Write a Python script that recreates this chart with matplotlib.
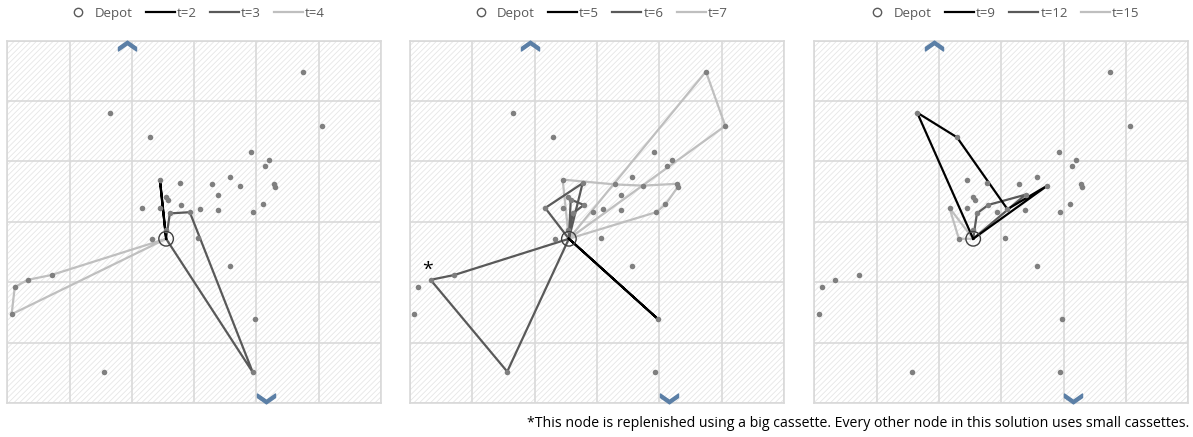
import numpy as np
import matplotlib
matplotlib.use("Agg")
from matplotlib import pyplot as plt
from matplotlib.lines import Line2D
from matplotlib.patches import Rectangle
from matplotlib.path import Path

plt.rcParams['font.family'] = ['Open Sans', 'DejaVu Sans']
plt.rcParams['hatch.linewidth'] = 0.6

# customer nodes (same layout in all three panels)
node_x = [47.5, 16.5, 50.6, 22.9, 39.2, 42.0, 41.3, 24.5, 27.7, 32.9,
          35.7, 37.4, 42.8, 43.0, 33.9, 25.4, 25.8, 21.7, 24.5, 27.9,
          31.0, 33.8, 41.0, 39.5, 26.1, 29.3, 23.2, 25.4, 30.6, 35.7,
          3.3, 7.1, 1.2, 0.7, 39.8, 15.6, 39.4]
node_y = [54.9, 48.1, 45.9, 44.0, 41.6, 40.3, 39.2, 37.0, 36.4, 36.2,
          37.4, 36.0, 36.3, 35.8, 34.5, 34.1, 33.7, 32.3, 32.3, 32.8,
          32.1, 31.9, 32.9, 31.6, 31.4, 31.6, 27.2, 28.7, 27.3, 22.7,
          20.4, 21.2, 19.2, 14.7, 13.9, 5.2, 5.1]
depot = (25.5, 27.2)

# routes per period, as node indices ('D' = depot)
periods = [
    ['t=2', 't=3', 't=4'],
    ['t=5', 't=6', 't=7'],
    ['t=9', 't=12', 't=15'],
]
routes = [
    [[['D', 7, 'D']],
     [['D', 24, 25, 36, 'D']],
     [['D', 31, 30, 32, 33, 'D']]],
    [[['D', 34, 'D']],
     [['D', 31, 30, 35, 'D'], ['D', 17, 8, 'D'], ['D', 16, 19, 24, 'D']],
     [['D', 7, 9, 11, 12, 13, 22, 23, 'D'], ['D', 0, 2, 'D']]],
    [[['D', 1, 3, 20, 11, 'D']],
     [['D', 24, 19, 14, 'D']],
     [['D', 17, 26, 'D']]],
]
big_cassette = (1, 30)   # panel, node

line_colors = ['#000000', '#595959', '#bfbfbf']
node_color = '#7f7f7f'
grid_color = '#d9d9d9'
arrow_color = '#5b7fa6'

# chevron marker for the axis arrows
chevron = Path([(-1, -0.1), (0, 0.6), (1, -0.1), (1, -0.5), (0, 0.2), (-1, -0.5), (-1, -0.1)],
               [Path.MOVETO] + [Path.LINETO] * 5 + [Path.CLOSEPOLY])
chevron_down = Path(chevron.vertices * [1, -1], chevron.codes)


def xy(i):
    if i == 'D':
        return depot
    return node_x[i], node_y[i]


fig = plt.figure(figsize=(11.93, 4.37), dpi=100)
lefts = [0.0061, 0.3437, 0.6826]
for p in range(3):
    ax = fig.add_axes([lefts[p], 0.0778, 0.3133, 0.829])
    ax.set_xlim(0, 60)
    ax.set_ylim(0, 60)
    ax.add_patch(Rectangle((0, 0), 60, 60, facecolor='white', edgecolor='#e6e6e6',
                           hatch='//////', linewidth=0, zorder=0))
    ax.set_xticks(np.arange(0, 61, 10))
    ax.set_yticks(np.arange(0, 61, 10))
    ax.grid(True, color=grid_color, linewidth=1.2, zorder=1)
    ax.tick_params(left=False, bottom=False, labelleft=False, labelbottom=False)
    for s in ax.spines.values():
        s.set_color(grid_color)
        s.set_linewidth(1.2)

    for k in range(3):
        for r in routes[p][k]:
            pts = [xy(i) for i in r]
            ax.plot([q[0] for q in pts], [q[1] for q in pts], color=line_colors[k],
                    linewidth=1.6, zorder=3 + (2 - k) * 0.1)
    ax.scatter(node_x, node_y, s=16, color=node_color, zorder=4, linewidths=0)
    ax.scatter([depot[0]], [depot[1]], s=110, facecolor='none', edgecolor='#404040',
               linewidths=1.0, zorder=5)

    # axis arrows
    ax.plot([19.2], [59.2], marker=chevron, markersize=13, color=arrow_color,
            linestyle='none', clip_on=False, zorder=6)
    ax.plot([41.6], [0.8], marker=chevron_down, markersize=13, color=arrow_color,
            linestyle='none', clip_on=False, zorder=6)

    if p == big_cassette[0]:
        bx, by = xy(big_cassette[1])
        ax.text(bx - 0.5, by + 0.2, '*', fontsize=14, color='#000000', ha='center',
                va='bottom', zorder=6)

    handles = [Line2D([], [], marker='o', markersize=6, markerfacecolor='none',
                      markeredgecolor='#595959', linestyle='none', label='Depot')]
    for k in range(3):
        handles.append(Line2D([], [], color=line_colors[k], linewidth=1.6,
                              label=periods[p][k]))
    fig.legend(handles=handles, loc='center',
               bbox_to_anchor=(lefts[p] + 0.3133 / 2, 0.970), ncol=4, frameon=False,
               fontsize=9.5, handlelength=2.2, handletextpad=0.15, columnspacing=1.0,
               labelcolor='#595959')

fig.text(0.997, 0.032, '*This node is replenished using a big cassette. Every other node '
         'in this solution uses small cassettes.', ha='right', va='center',
         fontsize=10.2, color='#000000')

fig.savefig('out.png', dpi=100)
